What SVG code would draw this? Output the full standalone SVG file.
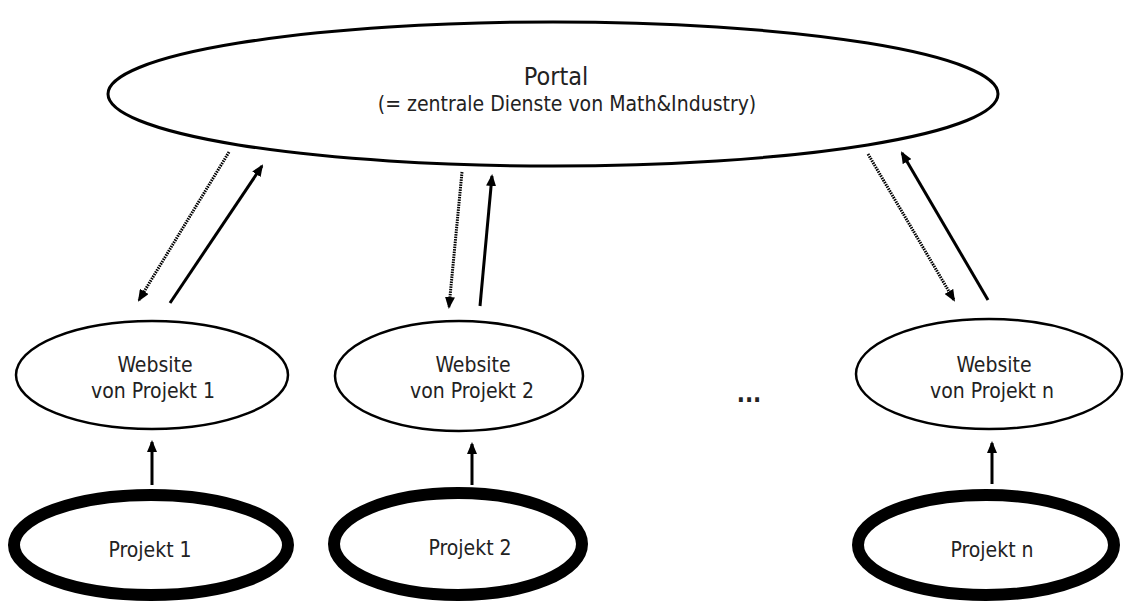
<svg xmlns="http://www.w3.org/2000/svg" width="1124" height="601" viewBox="0 0 1124 601">
  <style>
    .lbl { font-family: "DejaVu Sans Condensed", "Liberation Sans Narrow", "DejaVu Sans", sans-serif; fill: #222; text-anchor: middle; font-size: 21px; }
    .site { fill: #fff; stroke: #000; stroke-width: 2.5; }
    .proj { fill: #fff; stroke: #000; stroke-width: 12; }
    .portal { fill: #fff; stroke: #000; stroke-width: 3; }
    .solid { stroke: #000; stroke-width: 3; fill: none; marker-end: url(#head); }
    .dotted { stroke: #000; stroke-width: 3; fill: none; stroke-dasharray: 1.5 1; marker-end: url(#head); }
  </style>
  <defs>
    <marker id="head" viewBox="0 0 12 10" refX="10" refY="5" markerWidth="12" markerHeight="10" markerUnits="userSpaceOnUse" orient="auto">
      <path d="M0,0 L12,5 L0,10 Z" fill="#000"/>
    </marker>
  </defs>
  <rect width="1124" height="601" fill="#fff"/>

  <g id="portal">
    <ellipse class="portal" cx="553" cy="94" rx="445" ry="72"/>
    <text class="lbl" x="556" y="85" style="font-size:25px">Portal</text>
    <text class="lbl" x="567" y="111">(= zentrale Dienste von Math&amp;Industry)</text>
  </g>

  <g id="website1">
    <ellipse class="site" cx="152" cy="375" rx="136" ry="54"/>
    <text class="lbl" x="155" y="372">Website</text>
    <text class="lbl" x="153" y="398">von Projekt 1</text>
  </g>
  <g id="website2">
    <ellipse class="site" cx="459" cy="376" rx="124" ry="55"/>
    <text class="lbl" x="473" y="372">Website</text>
    <text class="lbl" x="472" y="398">von Projekt 2</text>
  </g>
  <g id="websiten">
    <ellipse class="site" cx="989" cy="374" rx="133" ry="55"/>
    <text class="lbl" x="994" y="372">Website</text>
    <text class="lbl" x="992" y="398">von Projekt n</text>
  </g>

  <g id="projekt1">
    <ellipse class="proj" cx="151" cy="545" rx="137" ry="50"/>
    <text class="lbl" x="150" y="557">Projekt 1</text>
  </g>
  <g id="projekt2">
    <ellipse class="proj" cx="458" cy="544" rx="124" ry="51"/>
    <text class="lbl" x="470" y="555">Projekt 2</text>
  </g>
  <g id="projektn">
    <ellipse class="proj" cx="986" cy="545" rx="128" ry="50"/>
    <text class="lbl" x="992" y="557">Projekt n</text>
  </g>

  <g id="ellipsis">
    <text class="lbl" x="749" y="402" style="font-size:24px;font-weight:bold">...</text>
  </g>

  <g id="connectors">
    <!-- portal to websites (dotted) and back (solid) -->
    <line class="dotted" x1="229" y1="152" x2="139" y2="300"/>
    <line class="solid" x1="170" y1="303" x2="262" y2="166"/>
    <line class="dotted" x1="462" y1="172" x2="449" y2="307"/>
    <line class="solid" x1="480" y1="306" x2="492" y2="176"/>
    <line class="dotted" x1="868" y1="154" x2="954" y2="300"/>
    <line class="solid" x1="988" y1="300" x2="902" y2="153"/>
    <!-- projects to their websites -->
    <line class="solid" x1="152" y1="485" x2="152" y2="442"/>
    <line class="solid" x1="472" y1="485" x2="472" y2="444"/>
    <line class="solid" x1="992" y1="484" x2="992" y2="443"/>
  </g>
</svg>
